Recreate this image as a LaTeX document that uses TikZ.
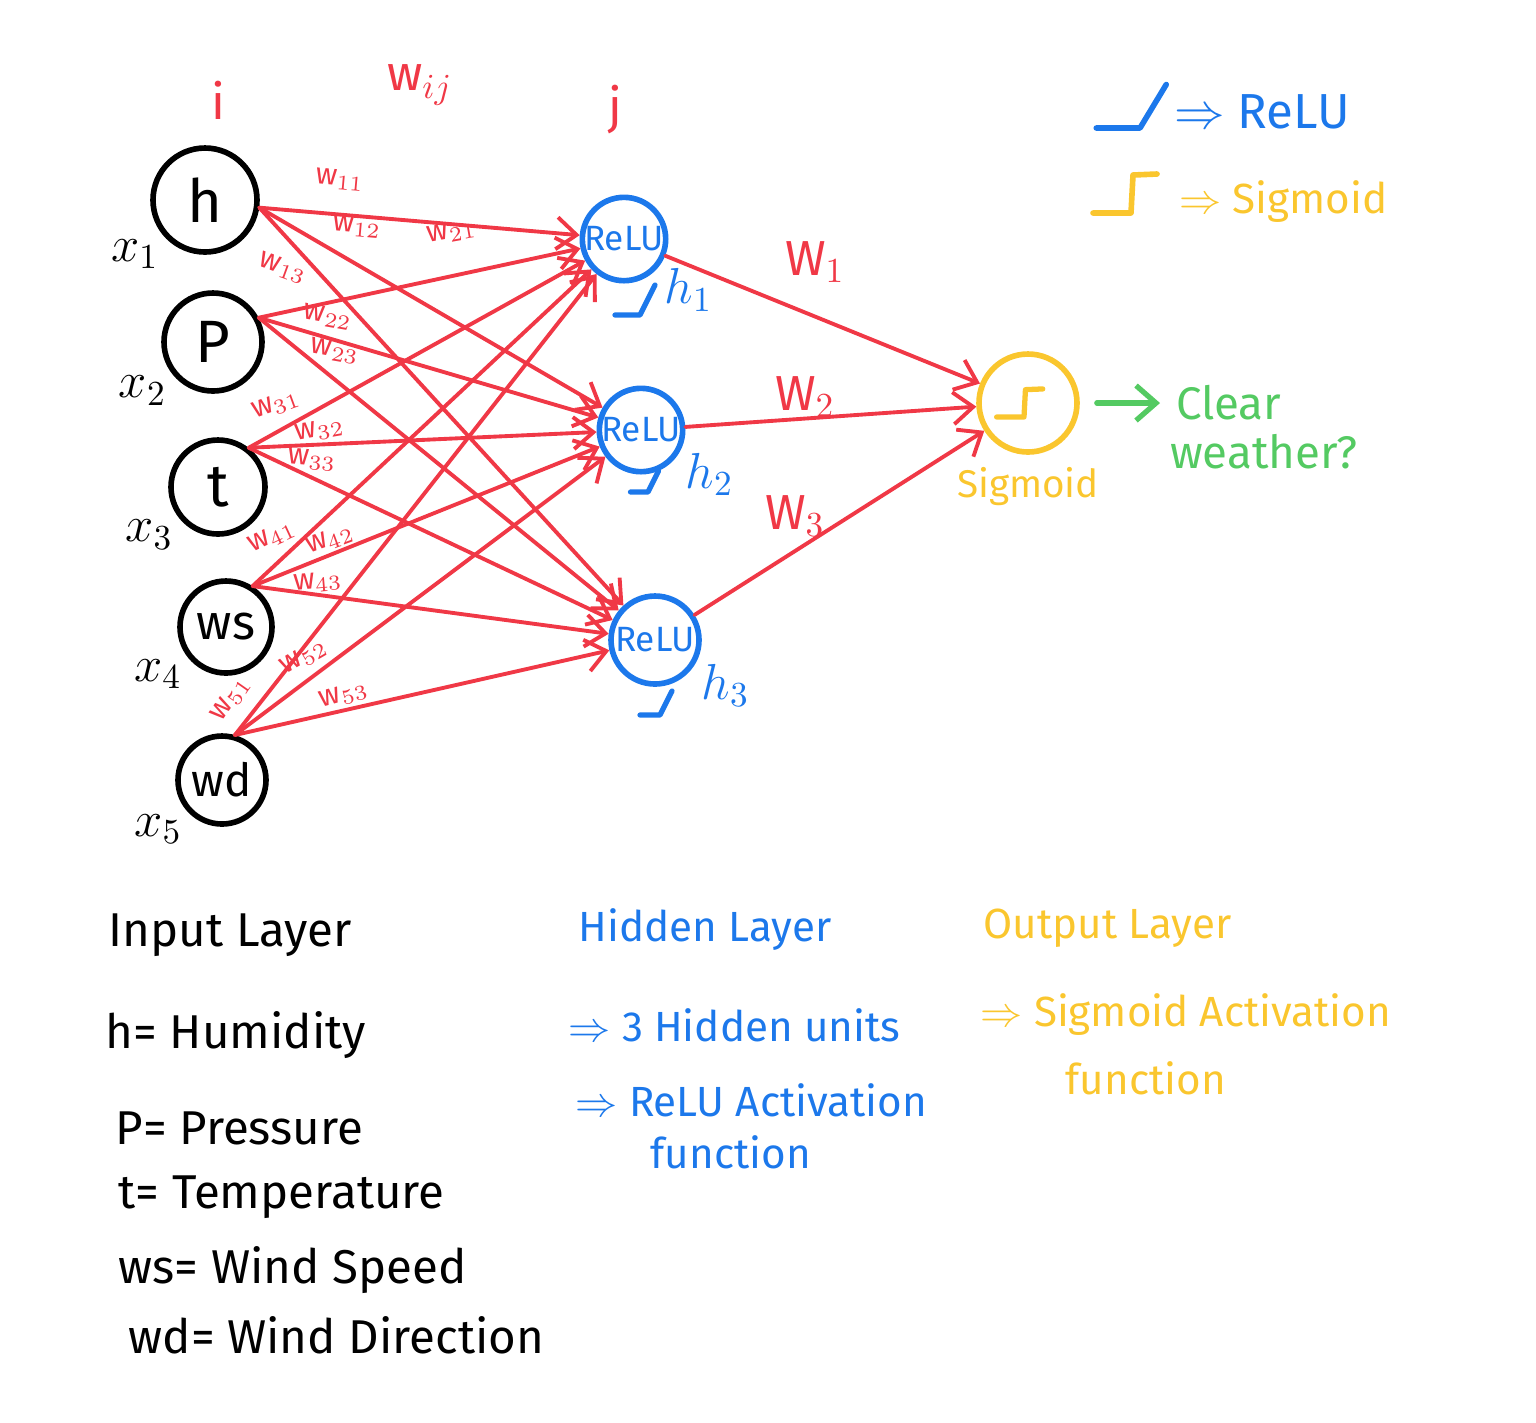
\documentclass[tikz,border=0pt]{standalone}
\usepackage{fontspec}
\setmainfont{Fira Sans}
\usetikzlibrary{arrows.meta, positioning, calc}
\definecolor{netRed}{RGB}{240, 56, 70}
\definecolor{netBlue}{RGB}{28, 120, 235}
\definecolor{netYellow}{RGB}{250, 198, 46}
\definecolor{netGreen}{RGB}{84, 202, 98}

\tikzset{
    relu glyph/.pic={\draw (-0.25,0) -- (0,0) -- (0.15,0.3);},
    sig glyph/.pic={\draw (-0.38,0) -- (0,0) -- (0.02,0.38) -- (0.26,0.39);}
}

\begin{document}
\begin{tikzpicture}[
    line cap=round, line join=round,
    neuron/.style={
        circle,
        draw=#1,
        line width=1.6pt,
        inner sep=0pt,
        minimum size=0.94cm,
        font=\fontsize{17}{18}\selectfont
    },
    hidden/.style={
        neuron=netBlue,
        minimum size=0.82cm,
        text=netBlue,
        font=\fontsize{10}{11}\selectfont
    },
    wire/.style={
        netRed,
        line width=1.1pt,
        -{Straight Barb[length=2mm, width=3.2mm]}
    },
    wlabel/.style={text=netRed, font=\fontsize{8.5}{9}\selectfont, inner sep=0pt},
    biglabel/.style={font=\fontsize{14}{16}\selectfont, inner sep=1pt},
    note/.style={font=\fontsize{13.5}{16}\selectfont, anchor=west, inner sep=0pt},
    side note/.style={note, font=\fontsize{12}{14}\selectfont}
]
    \useasboundingbox (0,0) rectangle (15.36,-14.22);

    % Layer i: inputs
    \node[neuron=black, minimum size=1.04cm, label={[biglabel]220:$x_1$}] (in1) at (2.05,-2.00) {h};
    \node[neuron=black, minimum size=0.98cm, label={[biglabel]215:$x_2$}] (in2) at (2.13,-3.42) {P};
    \node[neuron=black, label={[biglabel]215:$x_3$}] (in3) at (2.18,-4.87) {t};
    \node[neuron=black, minimum size=0.92cm, font=\fontsize{14}{15}\selectfont,
          label={[biglabel]215:$x_4$}] (in4) at (2.26,-6.27) {ws};
    \node[neuron=black, minimum size=0.88cm, font=\fontsize{13}{15}\selectfont,
          label={[biglabel]220:$x_5$}] (in5) at (2.22,-7.80) {wd};

    % Layer j: hidden units
    \node[hidden, label={[biglabel, text=netBlue]-35:$h_1$}] (hid1) at (6.24,-2.39) {ReLU};
    \node[hidden, label={[biglabel, text=netBlue]-25:$h_2$}] (hid2) at (6.41,-4.30) {ReLU};
    \node[hidden, minimum size=0.88cm, label={[biglabel, text=netBlue]-25:$h_3$}] (hid3) at (6.55,-6.40) {ReLU};

    % Output unit
    \node[neuron=netYellow, minimum size=0.98cm,
          label={[font=\fontsize{11}{12}\selectfont, text=netYellow]below:Sigmoid}] (out) at (10.28,-4.03) {};
    \pic[netYellow, line width=1.5pt, scale=0.72] at ([shift={(-0.04,-0.14)}]out.center) {sig glyph};

    % Layer headings
    \node[biglabel, text=netRed] (lay i) at (2.18,-1.00) {i};
    \node[biglabel, text=netRed] (lay w) at (4.20,-0.85) {w$_{ij}$};
    \node[biglabel, text=netRed] (lay j) at (6.15,-1.10) {j};

    % Connections
    \foreach \i/\a in {1/-8, 2/28, 3/52, 4/57, 5/74} {
        \foreach \j in {1,2,3} {
            \draw[wire] (in\i.\a) -- (hid\j);
        }
    }
    \foreach \j in {1,2,3} {
        \draw[wire] (hid\j) -- (out);
    }

    % Weight labels
    \foreach \w/\px/\py/\rot in {11/3.40/-1.80/-5, 12/3.57/-2.27/-5, 13/2.83/-2.68/-20,
                                21/4.52/-2.32/10, 22/3.28/-3.17/-10, 23/3.35/-3.51/-10,
                                31/2.76/-4.05/20, 32/3.20/-4.30/10, 33/3.12/-4.60/-5,
                                41/2.72/-5.37/25, 42/3.30/-5.40/20, 43/3.18/-5.82/5,
                                51/2.31/-6.99/55, 52/3.04/-6.57/30, 53/3.44/-6.95/15} {
        \node[wlabel, rotate=\rot] (w\w) at (\px,\py) {w$_{\w}$};
    }
    \node[biglabel, text=netRed] (v1) at (8.15,-2.62) {W$_1$};
    \node[biglabel, text=netRed] (v2) at (8.05,-3.97) {W$_2$};
    \node[biglabel, text=netRed] (v3) at (7.95,-5.16) {W$_3$};

    % ReLU marks under hidden units
    \pic[netBlue, line width=1.5pt] at ([shift={(0.16,-0.76)}]hid1.center) {relu glyph};
    \pic[netBlue, line width=1.5pt, scale=0.7] at ([shift={(0.07,-0.62)}]hid2.center) {relu glyph};
    \pic[netBlue, line width=1.5pt, scale=0.8] at ([shift={(0.05,-0.75)}]hid3.center) {relu glyph};

    % Prediction
    \node[biglabel, font=\fontsize{13}{15}\selectfont, text=netGreen, anchor=west] (clear) at (11.72,-4.03) {Clear};
    \node[biglabel, font=\fontsize{13}{15}\selectfont, text=netGreen, anchor=west] (weather) at (11.66,-4.52) {weather?};
    \draw[netGreen, line width=1.5pt, -{Straight Barb[length=2mm, width=3.5mm]},
          shorten <=0.17cm, shorten >=0.12cm] (out) -- (clear);

    % Legend
    \pic[netBlue, line width=1.6pt, xscale=1.75, yscale=1.45] at (11.40,-1.28) {relu glyph};
    \node[biglabel, text=netBlue, anchor=west] (leg relu) at (11.70,-1.12) {$\Rightarrow$ ReLU};
    \pic[netYellow, line width=1.6pt] at (11.31,-2.13) {sig glyph};
    \node[biglabel, font=\fontsize{12}{14}\selectfont, text=netYellow, anchor=west] (leg sig) at (11.75,-2.02) {$\Rightarrow$ Sigmoid};

    % Notes
    \node[note] (n in) at (1.08,-9.35) {Input Layer};
    \node[note] (n h) at (1.05,-10.35) {h= Humidity};
    \node[note] (n p) at (1.15,-11.28) {P= Pressure};
    \node[note] (n t) at (1.18,-11.97) {t= Temperature};
    \node[note] (n ws) at (1.18,-12.70) {ws= Wind Speed};
    \node[note] (n wd) at (1.28,-13.35) {wd= Wind Direction};

    \node[side note, text=netBlue] (n hid) at (5.78,-9.30) {Hidden Layer};
    \node[side note, text=netBlue] (n units) at (5.68,-10.25) {$\Rightarrow$ 3 Hidden units};
    \node[side note, text=netBlue] (n relu) at (5.75,-11.00) {$\Rightarrow$ ReLU Activation};
    \node[side note, text=netBlue] (n relu f) at (6.50,-11.52) {function};

    \node[side note, text=netYellow] (n out) at (9.83,-9.28) {Output Layer};
    \node[side note, text=netYellow] (n sig) at (9.80,-10.15) {$\Rightarrow$ Sigmoid Activation};
    \node[side note, text=netYellow] (n sig f) at (10.65,-10.78) {function};

\end{tikzpicture}
\end{document}
